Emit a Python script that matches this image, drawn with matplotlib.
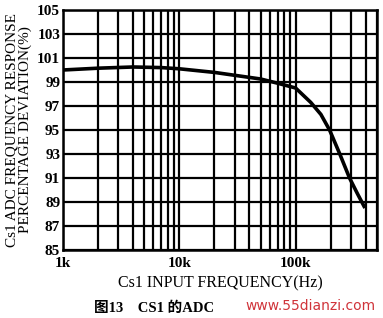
import numpy as np
import matplotlib.pyplot as plt
from matplotlib.ticker import FixedLocator, NullFormatter

plt.rcParams['font.family'] = ['Liberation Serif', 'Noto Sans CJK SC']

# curve
freq_hz = [1000, 2000, 4000, 7000, 10000, 20000, 50000, 70000, 100000,
           135000, 165000, 196000, 240000, 291000, 340000, 395000]
deviation_pct = [100.0, 100.15, 100.25, 100.2, 100.1, 99.8, 99.25, 98.9, 98.5,
                 97.3, 96.3, 95.0, 93.0, 91.0, 89.7, 88.5]

y_ticks = list(range(85, 106, 2))
x_major = [1e3, 1e4, 1e5]
x_major_labels = ['1k', '10k', '100k']
x_grid = [m * d for d in (1e3, 1e4, 1e5) for m in range(1, 10) if m * d <= 5e5]

fig = plt.figure(figsize=(3.83, 3.18), dpi=100)
ax = fig.add_axes([0.1645, 0.2138, 0.8195, 0.7548])

ax.plot(freq_hz, deviation_pct, color='black', lw=2.6, solid_capstyle='butt')

ax.set_xscale('log')
ax.set_xlim(1e3, 5e5)
ax.set_ylim(85, 105)

for xv in x_grid:
    ax.axvline(xv, color='black', lw=1.6, zorder=1)
for yv in y_ticks:
    ax.axhline(yv, color='black', lw=1.6, zorder=1)

ax.xaxis.set_major_locator(FixedLocator(x_major))
ax.set_xticklabels(x_major_labels)
ax.xaxis.set_minor_formatter(NullFormatter())
ax.set_yticks(y_ticks)
ax.tick_params(which='both', length=0, labelsize=11, pad=2)
ax.tick_params(axis='x', pad=5)
for lab in ax.get_xticklabels() + ax.get_yticklabels():
    lab.set_fontweight('bold')
for s in ax.spines.values():
    s.set_linewidth(1.8)

ax.set_xlabel('Cs1 INPUT FREQUENCY(Hz)', fontsize=11.5, labelpad=4)
ax.set_ylabel('Cs1 ADC FREQUENCY RESPONSE\nPERCENTAGE DEVIATION(%)',
              fontsize=11, labelpad=4, linespacing=1.0)

fig.text(0.245, 0.02, '图13    CS1 的ADC', fontsize=10.5, fontweight='bold')
fig.text(0.64, 0.025, 'www.55dianzi.com', fontsize=10, color='#d0343a',
         family='DejaVu Sans')

fig.savefig('out.png', dpi=100)
